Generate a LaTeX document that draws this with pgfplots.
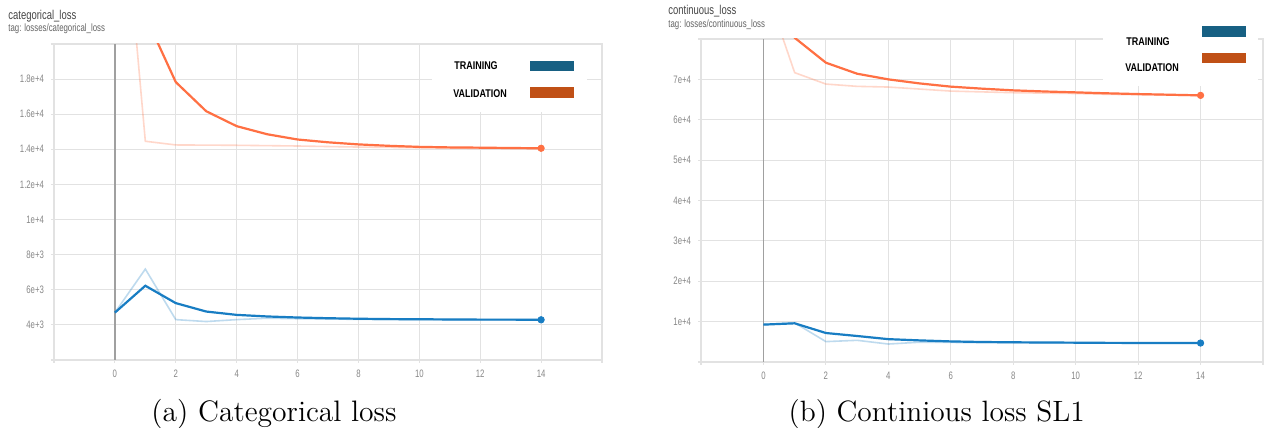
\documentclass[border=0pt]{standalone}
\usepackage{pgfplots}
\pgfplotsset{compat=1.18}
\usepackage{fontspec}
\newfontfamily\tbfont[FakeStretch=0.72]{Liberation Sans}
\newfontfamily\plainsans{Liberation Sans}
\newfontfamily\legfont[FakeStretch=0.8]{Liberation Sans}
\definecolor{gridc}{RGB}{226,226,226}
\definecolor{tickc}{RGB}{135,135,135}
\definecolor{zeroc}{RGB}{160,160,160}
\definecolor{blueline}{RGB}{24,125,195}
\definecolor{orangeline}{RGB}{255,112,67}
\definecolor{legblue}{RGB}{23,96,131}
\definecolor{legorange}{RGB}{192,80,22}
\definecolor{titlec}{RGB}{70,70,70}
\definecolor{tagc}{RGB}{100,100,100}
\newcommand\tickfont{\tbfont\fontsize{5.4}{6}\selectfont}
\pgfplotsset{
  tbaxis/.style={
    scale only axis, anchor=south west,
    axis line style={draw=gridc, line width=0.6pt},
    grid=major, major grid style={draw=gridc, line width=0.6pt},
    tick style={draw=gridc, line width=0.6pt},
    tick align=outside, major tick length=1.5pt, tick pos=left,
    scaled ticks=false,
    xmin=-2, xmax=16, xtick={-2,0,2,4,6,8,10,12,14,16},
    xticklabels={,0,2,4,6,8,10,12,14,},
    ticklabel style={font=\tickfont, text=tickc},
    /pgf/number format/assume math mode=true,
  },
  raw/.style={line width=0.8pt, opacity=0.28, forget plot},
  smooth/.style={line width=1.1pt, forget plot},
  endp/.style={only marks, mark=*, mark size=1.6pt, forget plot},
}
\begin{document}
\begin{tikzpicture}
\fill[white] (0,0) rectangle (632pt,214pt);
\useasboundingbox (0,0) rectangle (632pt,214pt);
% ---------- (a) categorical loss ----------
\begin{axis}[tbaxis, at={(27pt,34pt)}, width=274pt, height=158pt,
  ymin=2000, ymax=20000,
  ytick={2000,4000,6000,8000,10000,12000,14000,16000,18000,20000},
  yticklabels={,4e+3,6e+3,8e+3,1e+4,1.2e+4,1.4e+4,1.6e+4,1.8e+4,}]
\addplot[color=zeroc, line width=0.7pt, forget plot] coordinates {(0,2000) (0,20000)};
% training raw
\addplot[raw, color=blueline] coordinates {
(0,4700)(1,7180)(2,4300)(3,4190)(4,4300)(5,4380)(6,4350)(7,4330)(8,4320)(9,4300)(10,4300)(11,4290)(12,4290)(13,4290)(14,4290)};
% validation raw
\addplot[raw, color=orangeline] coordinates {
(0,34000)(1,14460)(2,14250)(3,14240)(4,14230)(5,14210)(6,14190)(7,14160)(8,14130)(9,14110)(10,14090)(11,14070)(12,14060)(13,14050)(14,14050)};
% training smoothed
\addplot[smooth, color=blueline] coordinates {
(0,4700)(1,6230)(2,5240)(3,4760)(4,4570)(5,4480)(6,4420)(7,4380)(8,4350)(9,4330)(10,4320)(11,4310)(12,4300)(13,4300)(14,4290)};
% validation smoothed
\addplot[smooth, color=orangeline] coordinates {
(0,34000)(1,21600)(2,17830)(3,16170)(4,15320)(5,14860)(6,14560)(7,14400)(8,14280)(9,14200)(10,14140)(11,14110)(12,14095)(13,14075)(14,14060)};
\addplot[endp, color=blueline] coordinates {(14,4290)};
\addplot[endp, color=orangeline] coordinates {(14,14060)};
\end{axis}
% ---------- (b) continuous loss ----------
\begin{axis}[tbaxis, at={(350.5pt,33pt)}, width=281pt, height=161.5pt,
  ymin=0, ymax=80000,
  ytick={0,10000,20000,30000,40000,50000,60000,70000,80000},
  yticklabels={,1e+4,2e+4,3e+4,4e+4,5e+4,6e+4,7e+4,}]
\addplot[color=zeroc, line width=0.7pt, forget plot] coordinates {(0,0) (0,80000)};
\addplot[raw, color=blueline] coordinates {
(0,9260)(1,9700)(2,5050)(3,5370)(4,4450)(5,4900)(6,4850)(7,4800)(8,4780)(9,4750)(10,4720)(11,4690)(12,4700)(13,4700)(14,4700)};
\addplot[raw, color=orangeline] coordinates {
(0,94200)(1,71660)(2,68840)(3,68270)(4,68100)(5,67600)(6,67100)(7,66900)(8,66700)(9,66600)(10,66500)(11,66300)(12,66200)(13,66100)(14,66000)};
\addplot[smooth, color=blueline] coordinates {
(0,9260)(1,9580)(2,7180)(3,6440)(4,5660)(5,5350)(6,5100)(7,4950)(8,4880)(9,4830)(10,4790)(11,4740)(12,4720)(13,4710)(14,4700)};
\addplot[smooth, color=orangeline] coordinates {
(0,94200)(1,80300)(2,74130)(3,71400)(4,70000)(5,69000)(6,68200)(7,67700)(8,67280)(9,67000)(10,66780)(11,66550)(12,66360)(13,66200)(14,66040)};
\addplot[endp, color=blueline] coordinates {(14,4700)};
\addplot[endp, color=orangeline] coordinates {(14,66040)};
\end{axis}
% ---------- decorations in pixel coordinates ----------
\begin{scope}[yshift=214pt, x=0.5pt, y=-0.5pt]
% legends
\fill[white] (432,45.5) rectangle (587,112);
\node[anchor=west, inner sep=0pt, font={\legfont\bfseries\fontsize{5.6}{6}\selectfont}] at (454,66) {TRAINING};
\node[anchor=west, inner sep=0pt, font={\legfont\bfseries\fontsize{5.6}{6}\selectfont}] at (453,93.5) {VALIDATION};
\fill[legblue] (530,61) rectangle (574,71);
\fill[legorange] (530,87) rectangle (574,98);
\fill[white] (1103,20) rectangle (1258,86);
\node[anchor=west, inner sep=0pt, font={\legfont\bfseries\fontsize{5.6}{6}\selectfont}] at (1126,42) {TRAINING};
\node[anchor=west, inner sep=0pt, font={\legfont\bfseries\fontsize{5.6}{6}\selectfont}] at (1125,67.5) {VALIDATION};
\fill[legblue] (1202,26) rectangle (1246,37);
\fill[legorange] (1202,53) rectangle (1246,63);
% titles
\node[anchor=base west, inner sep=0pt, text=titlec, font={\plainsans\fontsize{6.4}{7}\selectfont}] at (8,19.5) {\scalebox{0.74}[1]{categorical\_loss}};
\node[anchor=base west, inner sep=0pt, text=tagc, font={\plainsans\fontsize{5.3}{6}\selectfont}] at (8,32) {\scalebox{0.74}[1]{tag: losses/categorical\_loss}};
\node[anchor=base west, inner sep=0pt, text=titlec, font={\plainsans\fontsize{6.4}{7}\selectfont}] at (668,15) {\scalebox{0.74}[1]{continuous\_loss}};
\node[anchor=base west, inner sep=0pt, text=tagc, font={\plainsans\fontsize{5.3}{6}\selectfont}] at (668,27.5) {\scalebox{0.74}[1]{tag: losses/continuous\_loss}};
% captions
\node[anchor=base, inner sep=0pt, font={\fontsize{14.8}{17}\selectfont}] at (274,421.5) {(a) Categorical loss};
\node[anchor=base, inner sep=0pt, font={\fontsize{14.7}{17}\selectfont}] at (936.7,421.5) {(b) Continious loss SL1};
\end{scope}
\end{tikzpicture}
\end{document}
